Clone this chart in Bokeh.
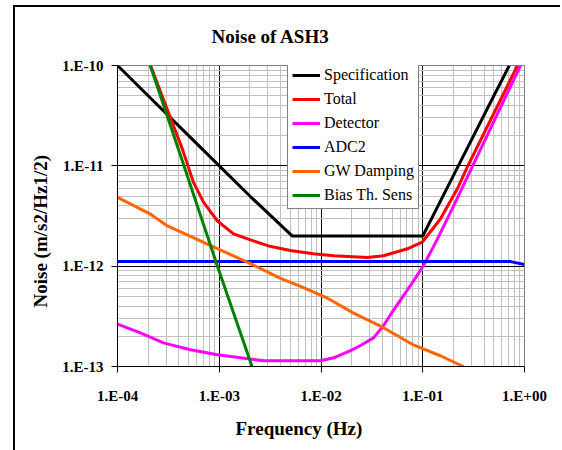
from bokeh.plotting import figure
from bokeh.models import FixedTicker, Legend, LegendItem, Title
from bokeh.embed import file_html
from bokeh.resources import INLINE

# ---------------- data ----------------
spec_f = [1e-4, 2e-4, 5e-4, 1e-3, 2e-3, 5.2e-3, 1e-2, 2e-2, 5e-2, 1e-1, 2e-1, 5e-1, 7.1e-1]
spec_n = [1e-10, 5e-11, 2e-11, 1e-11, 5e-12, 2e-12, 2e-12, 2e-12, 2e-12, 2e-12, 8e-12, 5e-11, 1e-10]

total_f = [2.11e-4, 4.36e-4, 5.58e-4, 7.0e-4, 9.6e-4, 1.38e-3, 1.9e-3, 2.98e-3, 5.0e-3, 8.4e-3,
           1.33e-2, 2.86e-2, 4.11e-2, 7.08e-2, 9.95e-2, 1.49e-1, 2.2e-1, 2.75e-1, 8.53e-1]
total_n = [1e-10, 1.45e-11, 6.84e-12, 4.35e-12, 2.82e-12, 2.1e-12, 1.87e-12, 1.6e-12, 1.43e-12, 1.33e-12,
           1.27e-12, 1.22e-12, 1.27e-12, 1.49e-12, 1.75e-12, 2.95e-12, 5.97e-12, 9.8e-12, 1e-10]

det_f = [1e-4, 1.68e-4, 2.83e-4, 5.21e-4, 9.6e-4, 2.72e-3, 9.9e-3, 1.33e-2, 1.95e-2, 2.44e-2,
         3.28e-2, 4.11e-2, 5.16e-2, 7.59e-2, 1.016e-1, 1.396e-1, 2.005e-1, 9.14e-1]
det_n = [2.65e-13, 2.16e-13, 1.72e-13, 1.47e-13, 1.31e-13, 1.14e-13, 1.14e-13, 1.22e-13, 1.44e-13, 1.62e-13,
         1.93e-13, 2.55e-13, 3.65e-13, 6.43e-13, 1.01e-12, 1.87e-12, 3.96e-12, 1e-10]

adc_f = [1e-4, 1e-3, 1e-2, 1e-1, 7.3e-1, 1.0]
adc_n = [1.11e-12, 1.11e-12, 1.11e-12, 1.11e-12, 1.11e-12, 1.04e-12]

gw_f = [1e-4, 2.11e-4, 3.10e-4, 8.77e-4, 2.03e-3, 4.0e-3, 6.29e-3, 1.16e-2, 2.09e-2, 3.85e-2,
        8.11e-2, 1.49e-1, 2.51e-1]
gw_n = [4.86e-12, 3.30e-12, 2.52e-12, 1.56e-12, 1.06e-12, 7.55e-13, 6.30e-13, 4.79e-13, 3.40e-13, 2.53e-13,
        1.64e-13, 1.28e-13, 1e-13]

bias_f = [2.1e-4, 4.5e-4, 9.6e-4, 2.1e-3]
bias_n = [1e-10, 1e-11, 1e-12, 1e-13]

x_ticks = [1e-4, 1e-3, 1e-2, 1e-1, 1.0]
x_tick_labels = ["1.E-04", "1.E-03", "1.E-02", "1.E-01", "1.E+00"]
y_ticks = [1e-13, 1e-12, 1e-11, 1e-10]
y_tick_labels = ["1.E-13", "1.E-12", "1.E-11", "1.E-10"]

series_names = ["Specification", "Total", "Detector", "ADC2", "GW Damping", "Bias Th. Sens"]
series_colors = ["#000000", "#FF0000", "#FF00FF", "#0000FF", "#FF6600", "#008000"]

title_text = "Noise of ASH3"
x_title = "Frequency (Hz)"
y_title = "Noise (m/s2/Hz1/2)"

SERIF = "Liberation Serif, serif"

# ---------------- figure ----------------
p = figure(width=560, height=450, x_axis_type="log", y_axis_type="log",
           x_range=(1e-4, 1.0), y_range=(1e-13, 1e-10),
           output_backend="svg", toolbar_location=None,
           min_border_left=117, min_border_right=36, min_border_top=65, min_border_bottom=81,
           background_fill_color="white", border_fill_color=None)
p.styles = {"background": "linear-gradient(#000,#000) 13px 5px / 2px 100% no-repeat, "
                          "linear-gradient(#000,#000) 13px 5px / 100% 2px no-repeat, #ffffff"}
p.outline_line_color = "#808080"
p.outline_line_width = 1

# title
p.title.text = title_text
p.title.align = "left"
p.title.offset = 94
p.title.standoff = 38
p.title.text_font = SERIF
p.title.text_font_style = "bold"
p.title.text_font_size = "19px"
p.title.text_color = "black"

x_minor = [m * t for t in x_ticks[:-1] for m in range(2, 10)]
y_minor = [m * t for t in y_ticks[:-1] for m in range(2, 10)]
p.xaxis.ticker = FixedTicker(ticks=x_ticks, minor_ticks=x_minor)
p.yaxis.ticker = FixedTicker(ticks=y_ticks, minor_ticks=y_minor)
p.xaxis.major_label_overrides = {t: l for t, l in zip(x_ticks, x_tick_labels)}
p.yaxis.major_label_overrides = {t: l for t, l in zip(y_ticks, y_tick_labels)}

for ax in (p.xaxis, p.yaxis):
    ax.axis_line_color = "black"
    ax.axis_line_width = 1
    ax.major_tick_line_color = "black"
    ax.major_tick_out = 6
    ax.major_tick_in = 0
    ax.minor_tick_line_color = None
    ax.major_label_text_font = SERIF
    ax.major_label_text_font_style = "bold"
    ax.major_label_text_font_size = "15px"
    ax.major_label_text_color = "black"
p.xaxis.major_label_standoff = 15
p.yaxis.major_label_standoff = 8

# axis titles as side titles (so they can be shifted along the axis)
yt = Title(text=y_title, align="left", offset=59, standoff=16, vertical_align="middle",
           text_font=SERIF, text_font_style="bold", text_font_size="19px", text_color="black")
p.add_layout(yt, "left")

xt = Title(text=x_title, align="left", offset=118, standoff=21, vertical_align="middle",
           text_font=SERIF, text_font_style="bold", text_font_size="19px", text_color="black")
p.add_layout(xt, "below")

for g in (p.xgrid, p.ygrid):
    g.grid_line_color = "black"
    g.grid_line_width = 1
    g.minor_grid_line_color = "#c0c0c0"
    g.minor_grid_line_width = 1

# ---------------- series ----------------
data = [(spec_f, spec_n), (total_f, total_n), (det_f, det_n),
        (adc_f, adc_n), (gw_f, gw_n), (bias_f, bias_n)]
items = []
for (fx, ny), name, col in zip(data, series_names, series_colors):
    r = p.line(fx, ny, line_color=col, line_width=3)
    items.append(LegendItem(label=name, renderers=[r]))

legend = Legend(items=items, location=(170, 157), margin=0, padding=4, spacing=6,
                glyph_width=28, glyph_height=16, label_height=16, label_standoff=4,
                label_text_font=SERIF, label_text_font_size="16px",
                label_text_color="black",
                border_line_color="black", border_line_width=1,
                background_fill_color="white", background_fill_alpha=1)
p.add_layout(legend)

open("out.html", "w").write(file_html(p, INLINE))
